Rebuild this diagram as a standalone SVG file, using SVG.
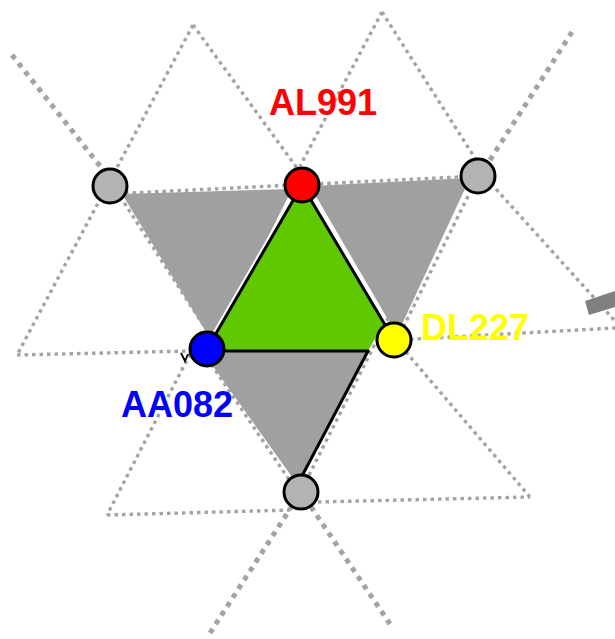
<svg xmlns="http://www.w3.org/2000/svg" width="615" height="639" viewBox="0 0 615 639">
<style>
.d{fill:none;stroke:#a3a3a3;stroke-width:3.4;stroke-dasharray:3.5 4}
.t{fill:none;stroke:#a3a3a3;stroke-width:5;stroke-dasharray:5 5.5}
.g{fill:#a0a0a0;stroke:none}
.e{fill:none;stroke:#000;stroke-width:3;stroke-linecap:round}
.w{fill:none;stroke:#fff;stroke-width:7}
.n{stroke:#000;stroke-width:3}
.lbl{font-family:"Liberation Sans",Arial,sans-serif;font-weight:bold;font-size:36px}
</style>
<rect width="615" height="639" fill="#fff"/>
<g id="lattice">
<polygon class="g" points="122,194 292,189 214,345"/>
<polygon class="g" points="310,186 470,178 397,335"/>
<polygon class="g" points="202,351 368,351 297,484"/>
<line class="d" x1="193" y1="25" x2="17" y2="355"/>
<line class="d" x1="193" y1="25" x2="297" y2="168"/>
<line class="d" x1="382" y1="12" x2="300" y2="166"/>
<line class="d" x1="382" y1="12" x2="480" y2="166"/>
<line class="d" x1="486" y1="178" x2="615" y2="321"/>
<line class="d" x1="110" y1="194" x2="478" y2="176"/>
<line class="d" x1="112" y1="184" x2="213" y2="340"/>
<line class="d" x1="478" y1="176" x2="398" y2="338"/>
<line class="d" x1="17" y1="355" x2="190" y2="351"/>
<line class="d" x1="190" y1="354" x2="107" y2="515"/>
<line class="d" x1="107" y1="515" x2="292" y2="510"/>
<line class="d" x1="318" y1="502" x2="530" y2="497"/>
<line class="d" x1="530" y1="497" x2="400" y2="345"/>
<line class="d" x1="395" y1="340" x2="615" y2="328"/>
<line class="d" x1="388" y1="318" x2="303" y2="487"/>
<line class="d" x1="203" y1="352" x2="296" y2="490"/>
<line class="t" x1="12" y1="55" x2="108" y2="176"/>
<line class="t" x1="572" y1="32" x2="490" y2="160"/>
<line class="t" x1="390" y1="624" x2="301" y2="492"/>
<line class="t" x1="210" y1="633" x2="301" y2="492"/>
<polygon points="585,301 615,291 615,307 589,315" fill="#808080"/>
</g>
<g id="connectors">
<line class="w" x1="302" y1="185" x2="207" y2="349"/>
<line class="w" x1="302" y1="185" x2="394" y2="340"/>
<polygon id="face" points="302,185 384,323 368,351 207,351" fill="#5fc800"/>
<line class="e" x1="302" y1="185" x2="207" y2="349"/>
<line class="e" x1="302" y1="185" x2="394" y2="340"/>
<line class="e" x1="207" y1="351" x2="368" y2="351"/>
<line class="e" x1="368" y1="351" x2="302" y2="476"/>
<path d="M181,353 L185,361 L188,354" fill="none" stroke="#000" stroke-width="1.8"/>
</g>
<g id="node-tl"><circle class="n" cx="110" cy="186" r="17" fill="#b3b3b3"/></g>
<g id="node-tr"><circle class="n" cx="478" cy="176" r="17" fill="#b3b3b3"/></g>
<g id="node-b"><circle class="n" cx="301" cy="492" r="17" fill="#b3b3b3"/></g>
<g id="AL991"><circle class="n" cx="302" cy="185" r="17" fill="#ff0000"/>
<text class="lbl" x="269" y="115" fill="#ff0000">AL991</text></g>
<g id="AA082"><circle class="n" cx="207" cy="349" r="17" fill="#0000ff"/>
<text class="lbl" x="121" y="417" fill="#0000ff">AA082</text></g>
<g id="DL227"><circle class="n" cx="394" cy="340" r="17" fill="#ffff00"/>
<text class="lbl" x="421" y="340" fill="#ffff00">DL227</text></g>
</svg>
